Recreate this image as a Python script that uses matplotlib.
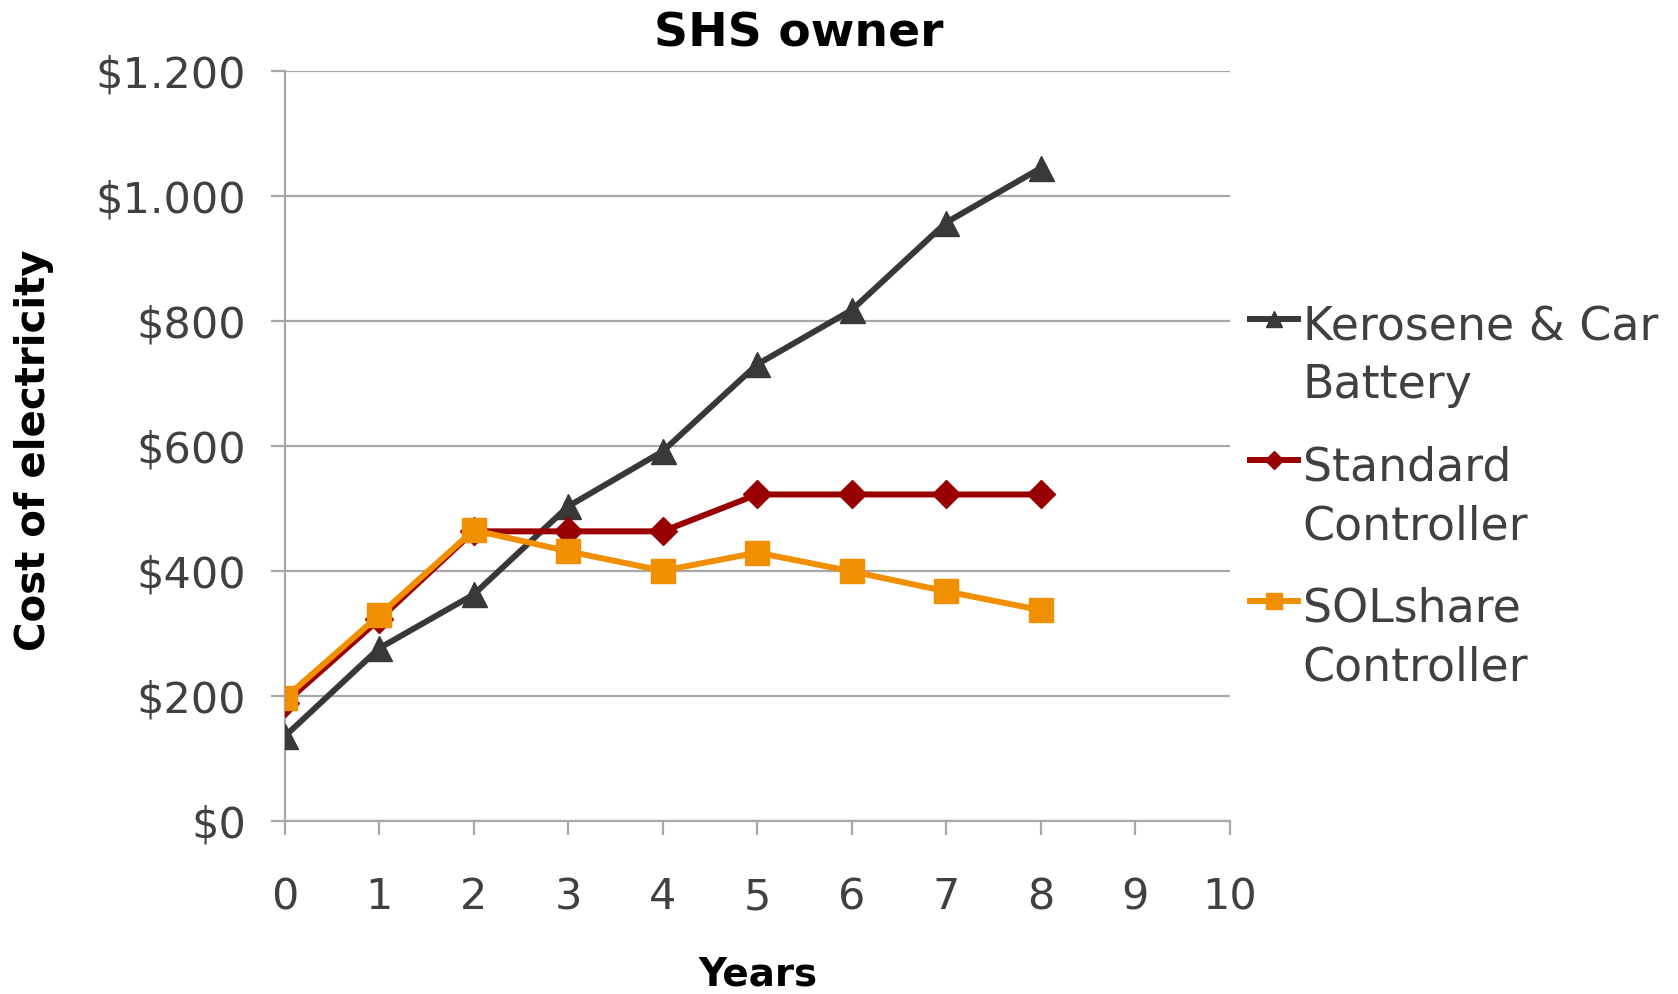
import numpy as np
import matplotlib
matplotlib.use("Agg")
import matplotlib.pyplot as plt
from matplotlib.legend_handler import HandlerLine2D
from matplotlib.ticker import FuncFormatter

# Cumulative cost of electricity for an SHS owner (USD)
years = [0, 1, 2, 3, 4, 5, 6, 7, 8]
kerosene = [135, 276, 362, 503, 591, 730, 817, 957, 1044]
standard = [188, 322, 463, 463, 463, 522, 522, 522, 522]
solshare = [196, 329, 465, 431, 400, 429, 399, 367, 337]

series_labels = ["Kerosene & Car\nBattery", "Standard\nController", "SOLshare\nController"]
x_ticks = list(range(0, 11))
y_ticks = [0, 200, 400, 600, 800, 1000, 1200]

title = "SHS owner"
x_label = "Years"
y_label = "Cost of electricity"

W, H, DPI = 1678, 994, 100
fig = plt.figure(figsize=(W / DPI, H / DPI), dpi=DPI)
ax = fig.add_axes([284.7 / W, 1 - 820.8 / H, 945.0 / W, 750.2 / H])

GRID = "#a8a8a8"
TXT = "#404040"

ax.plot(years, kerosene, color="#383838", lw=4.3, marker="^", ms=18,
        label=series_labels[0], zorder=3)
ax.plot(years, standard, color="#990000", lw=4.3, marker="D", ms=14,
        label=series_labels[1], zorder=4)
ax.plot(years, solshare, color="#f09000", lw=4.3, marker="s", ms=17,
        label=series_labels[2], zorder=5)

ax.set_xlim(0, 10)
ax.set_ylim(0, 1200)
ax.set_xticks(x_ticks)
ax.set_yticks(y_ticks)


def dollars(v, _pos):
    return "${:,.0f}".format(v).replace(",", ".")


ax.yaxis.set_major_formatter(FuncFormatter(dollars))
ax.grid(axis="y", color=GRID, lw=1.6)
ax.set_axisbelow(True)
for side in ("top", "right"):
    ax.spines[side].set_visible(False)
for side in ("left", "bottom"):
    ax.spines[side].set_color(GRID)
    ax.spines[side].set_linewidth(1.6)
ax.tick_params(axis="both", colors=GRID, width=1.6, length=10,
               labelcolor=TXT, labelsize=31)
ax.tick_params(axis="x", pad=30)
ax.tick_params(axis="y", pad=18)

fig.text(799 / W, 1 - 34 / H, title, ha="center", va="center",
         fontsize=34, fontweight="bold", color="black")
fig.text(758 / W, 1 - 975 / H, x_label, ha="center", va="center",
         fontsize=28, fontweight="bold", color="black")
fig.text(34 / W, 1 - 450 / H, y_label, ha="center", va="center",
         rotation=90, fontsize=29, fontweight="bold", color="black")


class FirstLineHandler(HandlerLine2D):
    """Legend key drawn level with the first line of a two-line label."""

    def __init__(self, shift, **kw):
        super().__init__(**kw)
        self.shift = shift

    def create_artists(self, legend, orig_handle, xdescent, ydescent,
                       width, height, fontsize, trans):
        arts = super().create_artists(legend, orig_handle, xdescent, ydescent,
                                      width, height, fontsize, trans)
        for a in arts:
            a.set_ydata(np.asarray(a.get_ydata(), dtype=float) + self.shift)
        return arts


handles = ax.get_lines()
hm = {h: FirstLineHandler(shift=28) for h in handles}
leg = fig.legend(handles=handles, labels=series_labels, handler_map=hm,
                 loc="upper left", bbox_to_anchor=(1250 / W, 1 - 305 / H),
                 frameon=False, fontsize=33, handlelength=1.05,
                 handletextpad=0.1, labelspacing=0.82, markerscale=0.65,
                 borderpad=0, borderaxespad=0)
for t in leg.get_texts():
    t.set_color(TXT)
    t.set_linespacing(1.38)

fig.savefig("out.png", dpi=DPI, facecolor="white")
